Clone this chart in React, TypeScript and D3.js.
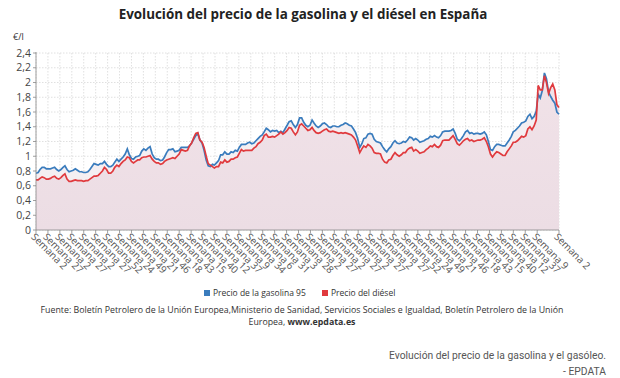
import React from "react";
import * as d3 from "d3";

const X_LABELS = [
  "Semana 2", "Semana 27", "Semana 2", "Semana 27", "Semana 2", "Semana 27", "Semana 52", "Semana 24",
  "Semana 49", "Semana 21", "Semana 46", "Semana 18", "Semana 43", "Semana 15", "Semana 40", "Semana 12",
  "Semana 37", "Semana 9", "Semana 34", "Semana 6", "Semana 31", "Semana 3", "Semana 28", "Semana 2",
  "Semana 27", "Semana 2", "Semana 27", "Semana 2", "Semana 27", "Semana 2", "Semana 27", "Semana 52",
  "Semana 24", "Semana 49", "Semana 21", "Semana 46", "Semana 18", "Semana 43", "Semana 15", "Semana 40",
  "Semana 12", "Semana 37", "Semana 9", "Semana 2",
];

const Y_TICKS = [0, 0.2, 0.4, 0.6, 0.8, 1, 1.2, 1.4, 1.6, 1.8, 2, 2.2, 2.4];

// monthly values, Jan 2002 .. Jan 2023
const GASOLINA = [
  0.77, 0.78, 0.82, 0.85, 0.85, 0.83, 0.83, 0.83, 0.84, 0.85, 0.82, 0.80,
  0.82, 0.85, 0.87, 0.82, 0.79, 0.80, 0.81, 0.83, 0.81, 0.79, 0.79, 0.78,
  0.78, 0.79, 0.82, 0.86, 0.90, 0.89, 0.88, 0.90, 0.90, 0.93, 0.89, 0.86,
  0.86, 0.88, 0.92, 0.96, 0.93, 0.96, 0.99, 1.03, 1.10, 1.02, 0.97, 0.96,
  0.99, 1.00, 1.01, 1.07, 1.10, 1.08, 1.11, 1.13, 1.03, 0.98, 0.96, 0.96,
  0.94, 0.95, 0.99, 1.05, 1.09, 1.09, 1.10, 1.06, 1.07, 1.08, 1.12, 1.12,
  1.12, 1.12, 1.14, 1.18, 1.23, 1.28, 1.31, 1.22, 1.18, 1.08, 0.95, 0.87,
  0.86, 0.89, 0.88, 0.91, 0.94, 1.02, 1.02, 1.06, 1.03, 1.03, 1.06, 1.05,
  1.08, 1.07, 1.12, 1.16, 1.16, 1.16, 1.18, 1.19, 1.17, 1.18, 1.21, 1.24,
  1.27, 1.29, 1.33, 1.38, 1.36, 1.33, 1.35, 1.34, 1.35, 1.32, 1.34, 1.32,
  1.37, 1.42, 1.47, 1.48, 1.43, 1.39, 1.43, 1.52, 1.52, 1.46, 1.42, 1.40,
  1.42, 1.49, 1.45, 1.41, 1.39, 1.41, 1.44, 1.45, 1.43, 1.40, 1.39, 1.41,
  1.41, 1.40, 1.40, 1.42, 1.43, 1.45, 1.44, 1.42, 1.41, 1.37, 1.32, 1.24,
  1.12, 1.17, 1.24, 1.25, 1.30, 1.31, 1.30, 1.23, 1.20, 1.19, 1.18, 1.13,
  1.09, 1.06, 1.10, 1.13, 1.18, 1.21, 1.18, 1.17, 1.18, 1.20, 1.19, 1.22,
  1.26, 1.25, 1.22, 1.24, 1.22, 1.19, 1.20, 1.21, 1.23, 1.24, 1.27, 1.26,
  1.28, 1.26, 1.25, 1.28, 1.33, 1.34, 1.34, 1.34, 1.35, 1.37, 1.31, 1.23,
  1.21, 1.24, 1.28, 1.33, 1.35, 1.31, 1.32, 1.30, 1.31, 1.31, 1.30, 1.31,
  1.33, 1.29, 1.20, 1.09, 1.08, 1.13, 1.16, 1.16, 1.15, 1.14, 1.14, 1.18,
  1.22, 1.27, 1.33, 1.35, 1.38, 1.41, 1.45, 1.46, 1.48, 1.54, 1.57, 1.51,
  1.54, 1.61, 1.84, 1.79, 1.89, 2.13, 2.05, 1.87, 1.81, 1.76, 1.72, 1.60,
  1.57,
];

const DIESEL = [
  0.68, 0.68, 0.70, 0.72, 0.71, 0.69, 0.69, 0.70, 0.72, 0.73, 0.70, 0.69,
  0.71, 0.74, 0.76, 0.69, 0.66, 0.66, 0.67, 0.68, 0.67, 0.67, 0.67, 0.66,
  0.67, 0.67, 0.69, 0.71, 0.73, 0.73, 0.74, 0.77, 0.80, 0.85, 0.82, 0.77,
  0.77, 0.80, 0.85, 0.88, 0.86, 0.90, 0.93, 0.95, 0.99, 0.98, 0.93, 0.91,
  0.93, 0.95, 0.95, 0.98, 0.99, 0.99, 1.00, 1.01, 0.96, 0.93, 0.91, 0.91,
  0.89, 0.90, 0.93, 0.95, 0.96, 0.97, 0.98, 0.97, 1.00, 1.03, 1.09, 1.08,
  1.07, 1.08, 1.14, 1.18, 1.25, 1.31, 1.32, 1.22, 1.19, 1.12, 1.00, 0.90,
  0.88, 0.86, 0.84, 0.86, 0.86, 0.92, 0.91, 0.95, 0.92, 0.93, 0.96, 0.96,
  0.98, 0.99, 1.04, 1.09, 1.07, 1.08, 1.08, 1.08, 1.08, 1.11, 1.13, 1.17,
  1.19, 1.22, 1.28, 1.30, 1.26, 1.26, 1.27, 1.26, 1.28, 1.30, 1.33, 1.30,
  1.32, 1.35, 1.39, 1.38, 1.33, 1.29, 1.33, 1.42, 1.44, 1.41, 1.38, 1.35,
  1.36, 1.39, 1.35, 1.32, 1.31, 1.32, 1.34, 1.36, 1.37, 1.34, 1.33, 1.34,
  1.33, 1.32, 1.31, 1.32, 1.31, 1.32, 1.31, 1.30, 1.29, 1.26, 1.22, 1.14,
  1.05, 1.10, 1.14, 1.12, 1.16, 1.14, 1.11, 1.05, 1.04, 1.04, 1.03, 0.96,
  0.92, 0.91, 0.95, 0.96, 1.01, 1.05, 1.02, 1.00, 1.02, 1.05, 1.05, 1.09,
  1.11, 1.12, 1.07, 1.09, 1.07, 1.04, 1.05, 1.06, 1.09, 1.11, 1.14, 1.13,
  1.16, 1.13, 1.12, 1.15, 1.21, 1.22, 1.22, 1.22, 1.25, 1.28, 1.23, 1.17,
  1.15, 1.18, 1.21, 1.23, 1.24, 1.21, 1.22, 1.20, 1.21, 1.22, 1.22, 1.23,
  1.25, 1.20, 1.13, 1.03, 0.99, 1.03, 1.06, 1.05, 1.03, 1.01, 1.01, 1.06,
  1.10, 1.14, 1.19, 1.19, 1.21, 1.24, 1.27, 1.26, 1.28, 1.37, 1.40, 1.36,
  1.41, 1.49, 1.96, 1.90, 1.90, 2.09, 2.00, 1.85, 1.93, 1.98, 1.90, 1.70,
  1.66,
];

const SERIES_NAMES = ["Precio de la gasolina 95", "Precio del diésel"];
const COLORS = ["#3a7cbd", "#e03a3e"];

const START = new Date(2002, 0, 10);
const END = new Date(2023, 0, 10);

const W = 620;
const H = 378;
const FONT = "'Open Sans', 'DejaVu Sans', sans-serif";

export default function App() {
  const x = d3.scaleTime().domain([START, END]).range([36, 559]);
  const y = d3.scaleLinear().domain([0, 2.4]).range([230, 53]);

  const dates = GASOLINA.map((_, i) => new Date(2002 + Math.floor(i / 12), i % 12, 10));
  const tickDates = X_LABELS.map((_, k) =>
    k === X_LABELS.length - 1 ? END : d3.timeDay.offset(START, 175 * k)
  );

  const line = (vals: number[]) =>
    d3.line<number>().x((_, i) => x(dates[i])).y((v) => y(v)).curve(d3.curveLinear)(vals) as string;
  const area = (vals: number[]) =>
    d3.area<number>().x((_, i) => x(dates[i])).y0(y(0)).y1((v) => y(v))(vals) as string;

  const fmt = (v: number) => String(+v.toFixed(1)).replace(".", ",");
  const [x0, x1] = x.range();

  return (
    <svg width={W} height={H} style={{ position: "absolute", left: 0, top: 0, background: "#fff" }}
      fontFamily={FONT}>
      <defs>
        <linearGradient id="gDiesel" x1="0" y1="0" x2="0" y2="1">
          <stop offset="0%" stopColor="#f1e2e8" />
          <stop offset="100%" stopColor="#ecdde4" />
        </linearGradient>
      </defs>
      <text x={303} y={19} textAnchor="middle" fontSize={13.4} fontWeight="bold" fill="#222">
        Evolución del precio de la gasolina y el diésel en España
      </text>
      <text x={13} y={40} fontSize={9} fill="#333">€/l</text>

      {/* grid */}
      {Y_TICKS.map((t) => (
        <line key={"hy" + t} x1={x0} x2={x1} y1={y(t)} y2={y(t)} stroke="#d8d8d8" strokeWidth={0.8}
          strokeDasharray="1.5,1.5" />
      ))}
      {tickDates.map((d, k) => (
        <line key={"vx" + k} x1={x(d)} x2={x(d)} y1={y(2.4)} y2={y(0)} stroke="#d8d8d8" strokeWidth={0.8}
          strokeDasharray="1.5,1.5" />
      ))}

      {/* areas */}
      <path d={area(GASOLINA)} fill="#f4eff2" />
      <path d={area(DIESEL)} fill="url(#gDiesel)" />

      {/* lines */}
      <path d={line(GASOLINA)} fill="none" stroke={COLORS[0]} strokeWidth={1.7} />
      <path d={line(DIESEL)} fill="none" stroke={COLORS[1]} strokeWidth={1.7} />

      {/* axes */}
      <line x1={x0} x2={x0} y1={y(2.4) - 1} y2={y(0)} stroke="#888" strokeWidth={0.8} />
      {Y_TICKS.map((t) => (
        <g key={"yt" + t}>
          <line x1={x0 - 3} x2={x0} y1={y(t)} y2={y(t)} stroke="#888" strokeWidth={0.8} />
          <text x={31} y={y(t)} dy="0.35em" textAnchor="end" fontSize={10.5} fill="#444">
            {fmt(t)}
          </text>
        </g>
      ))}
      <line x1={x0} x2={x1} y1={y(0)} y2={y(0)} stroke="#888" strokeWidth={0.8} />
      {tickDates.map((d, k) => (
        <g key={"xt" + k}>
          <line x1={x(d)} x2={x(d)} y1={y(0)} y2={y(0) + 3} stroke="#888" strokeWidth={0.8} />
          <text transform={`translate(${x(d) - 3},${y(0) + 5}) rotate(45)`} fontSize={10} fill="#555"
            dy="0.35em">
            {X_LABELS[k]}
          </text>
        </g>
      ))}

      {/* legend */}
      <g fontSize={8.5} fill="#333">
        <rect x={204} y={290} width={6} height={6} fill={COLORS[0]} />
        <text x={213} y={293} dy="0.35em">{SERIES_NAMES[0]}</text>
        <rect x={322} y={290} width={6} height={6} fill={COLORS[1]} />
        <text x={331} y={293} dy="0.35em">{SERIES_NAMES[1]}</text>
      </g>

      {/* source */}
      <g fontSize={8.8} fill="#333" textAnchor="middle">
        <text x={302} y={313}>
          Fuente: Boletín Petrolero de la Unión Europea,Ministerio de Sanidad, Servicios Sociales e Igualdad, Boletín Petrolero de la Unión
        </text>
        <text x={302} y={325}>
          Europea, <tspan fontWeight="bold">www.epdata.es</tspan>
        </text>
      </g>

      {/* caption */}
      <g fontFamily="Roboto, 'Liberation Sans', sans-serif" fontSize={10.3} fill="#555" textAnchor="end">
        <text x={606} y={359}>Evolución del precio de la gasolina y el gasóleo.</text>
        <text x={606} y={375}>- EPDATA</text>
      </g>
    </svg>
  );
}
